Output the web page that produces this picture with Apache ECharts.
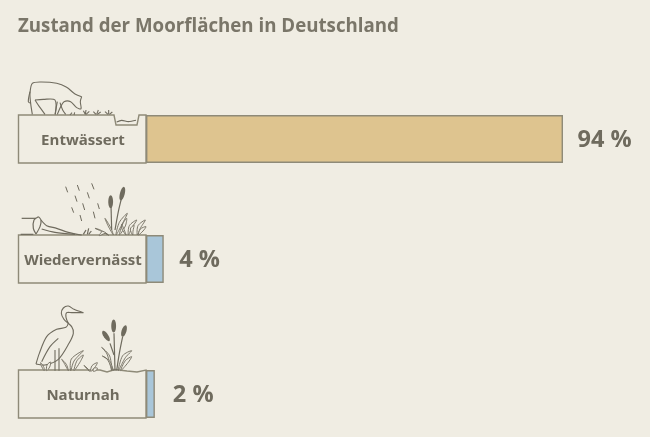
<!DOCTYPE html>
<html>
<head>
<meta charset="utf-8">
<style>
  html, body { margin: 0; padding: 0; background: #f0ede3; }
  #chart { width: 650px; height: 437px; }
</style>
<script src="https://cdn.jsdelivr.net/npm/echarts@6/dist/echarts.min.js"></script>
</head>
<body>
<div id="chart"></div>
<script>
const categories = ['Entwässert', 'Wiedervernässt', 'Naturnah'];
const values = [94, 4, 2];
const barColors = ['#dec48f', '#a9c6d9', '#a9c6d9'];
const barTops = [115, 235, 370];
const labelGaps = [14.5, 15.5, 18];

const textColor = '#6f6b5e';
const lineColor = '#8e8a78';
const iconColor = '#6f6b5e';
const bg = '#f0ede3';

// icon strokes are written in zoomed px (3x), o = offset of the crop
const strokes = (oy, list, width) => list.map(p => ({
  type: 'polyline',
  z: 5,
  silent: true,
  shape: { points: p.map(q => [q[0] / 3, q[1] / 3 + oy]), smooth: p.length > 2 ? 0.3 : 0 },
  style: { stroke: iconColor, fill: null, lineWidth: width || 1 }
}));
// narrow outlined leaf: base, bend, tip
const leaves = (oy, list) => list.map(l => ({
  type: 'polygon',
  z: 6,
  silent: true,
  shape: {
    points: [
      [l[0] / 3, l[1] / 3 + oy],
      [(l[2] - 4) / 3, (l[3] - 3) / 3 + oy],
      [l[4] / 3, l[5] / 3 + oy],
      [(l[2] + 4) / 3, (l[3] + 3) / 3 + oy]
    ],
    smooth: 0.3
  },
  style: { stroke: iconColor, fill: bg, lineWidth: 0.9 }
}));
const head = (oy, x, y, ry, rot) => ({
  type: 'ellipse',
  z: 7,
  silent: true,
  x: x / 3,
  y: y / 3 + oy,
  rotation: rot,
  shape: { cx: 0, cy: 0, rx: 2.4, ry: ry },
  style: { fill: iconColor }
});

const cow = strokes(60, [
  [[97, 163], [92, 130], [90, 100], [97, 70], [125, 66], [170, 70], [200, 82], [225, 102], [245, 110]],
  [[245, 110], [241, 125], [243, 146], [230, 143], [212, 125], [192, 125], [182, 140], [172, 163]],
  [[90, 95], [85, 125], [92, 130]],
  [[105, 120], [130, 118], [165, 120], [166, 163]],
  [[105, 120], [118, 140], [135, 163]],
  [[180, 128], [188, 150], [197, 163]],
  [[172, 125], [165, 163]],
  [[210, 165], [216, 158]], [[222, 165], [224, 157]],
  [[256, 163], [250, 152]], [[256, 163], [258, 150]], [[258, 163], [268, 154]],
  [[288, 163], [280, 155]], [[290, 163], [295, 150]], [[292, 163], [302, 156]],
  [[324, 163], [315, 155]], [[326, 163], [326, 150]], [[328, 163], [337, 156]],
  [[350, 186], [365, 181], [385, 185], [408, 181]]
], 1.1);

const rain = strokes(175, [
  [[197, 35], [203, 52]], [[232, 30], [238, 47]], [[275, 25], [282, 43]],
  [[225, 62], [231, 80]], [[262, 52], [268, 70]], [[215, 97], [221, 113]],
  [[248, 85], [254, 105]], [[293, 85], [298, 102]], [[240, 120], [245, 138]],
  [[280, 110], [285, 130]]
], 1);

const wetland = strokes(175, [
  [[65, 130], [108, 130]],
  [[62, 178], [100, 178]],
  [[115, 125], [102, 135], [100, 160], [108, 177]],
  [[115, 125], [123, 135], [120, 155], [108, 177]],
  [[123, 135], [140, 152], [170, 160], [205, 172], [245, 180]],
  [[125, 162], [165, 172], [225, 178]],
  [[250, 178], [258, 165]], [[262, 178], [266, 160]], [[266, 178], [274, 168]],
  [[333, 90], [335, 165]],
  [[365, 68], [355, 110], [345, 165]]
], 1.2);
const wetlandLeaves = leaves(175, [
  [340, 180, 328, 155, 315, 130],
  [348, 180, 362, 145, 382, 115],
  [358, 180, 372, 150, 380, 130],
  [325, 180, 305, 168, 285, 160],
  [325, 180, 312, 172, 298, 182],
  [378, 180, 370, 165, 365, 148],
  [385, 180, 392, 155, 410, 135],
  [412, 180, 418, 155, 436, 135],
  [415, 180, 425, 165, 438, 155],
  [398, 180, 395, 165, 402, 150]
]);

const heron = strokes(300, [
  [[250, 38], [222, 28], [205, 18], [190, 24], [184, 40], [192, 58], [215, 80], [220, 100], [207, 130], [175, 178], [135, 195], [108, 192]],
  [[250, 38], [215, 38], [200, 38], [198, 52], [205, 70]],
  [[108, 192], [118, 160], [140, 110], [170, 88], [198, 82], [205, 70]],
  [[125, 185], [150, 140], [175, 115]],
  [[165, 150], [165, 212]], [[177, 145], [177, 212]]
], 1.1);
const reedStems = strokes(300, [
  [[342, 100], [345, 212]],
  [[368, 110], [358, 160], [350, 212]],
  [[330, 130], [342, 165]]
], 1.2);
const naturnahLeaves = leaves(300, [
  [132, 212, 128, 200, 122, 188],
  [140, 212, 145, 198, 152, 186],
  [205, 212, 195, 190, 185, 178],
  [212, 212, 218, 180, 250, 152],
  [222, 212, 235, 185, 250, 165],
  [268, 214, 260, 204, 252, 196],
  [272, 214, 280, 200, 292, 188],
  [280, 214, 285, 208, 292, 204],
  [335, 212, 325, 165, 305, 142],
  [340, 212, 325, 180, 307, 168],
  [355, 212, 372, 170, 395, 152],
  [362, 212, 380, 185, 395, 170]
]);

const heads = [
  head(175, 332, 80, 6.5, 0), head(175, 367, 56, 7, -0.25),
  head(300, 341, 78, 6.5, 0), head(300, 318, 108, 6, 0.6), head(300, 372, 93, 6, -0.3)
];

// label boxes, the upper edge differs per row
const boxes = [
  [[18.5, 115], [114, 115], [116, 125], [137, 125], [139, 115], [146, 115], [146, 163], [18.5, 163]],
  [[18.5, 235], [146, 235], [146, 283], [18.5, 283]],
  [[18.5, 370], [100, 370], [107, 372], [115, 369.5], [127, 371], [137, 372], [146, 370], [146, 418], [18.5, 418]]
].map(points => ({
  type: 'polygon',
  z: -1,
  silent: true,
  shape: { points },
  style: { fill: bg, stroke: lineColor, lineWidth: 1.4 }
}));

const chart = echarts.init(document.getElementById('chart'));
chart.setOption({
  backgroundColor: bg,
  animation: false,
  title: {
    text: 'Zustand der Moorflächen in Deutschland',
    left: 13,
    top: 12,
    textStyle: { fontFamily: 'Open Sans', fontSize: 18.7, fontWeight: 'bold', color: '#7a7669' }
  },
  grid: categories.map((c, i) => ({ left: 146, width: 443.6, top: barTops[i], height: 48 })),
  xAxis: categories.map((c, i) => ({ gridIndex: i, type: 'value', min: 0, max: 100, show: false })),
  yAxis: categories.map((c, i) => ({
    gridIndex: i,
    type: 'category',
    data: [c],
    axisLine: { show: false },
    axisTick: { show: false },
    axisLabel: {
      margin: 63,
      align: 'center',
      verticalAlign: 'top',
      lineHeight: 3,
      fontFamily: 'Open Sans',
      fontSize: 15,
      fontWeight: 'bold',
      color: textColor
    }
  })),
  series: categories.map((c, i) => ({
    type: 'bar',
    xAxisIndex: i,
    yAxisIndex: i,
    data: [values[i]],
    barWidth: '100%',
    itemStyle: { color: barColors[i], borderColor: lineColor, borderWidth: 1.4 },
    label: {
      show: true,
      position: 'right',
      distance: labelGaps[i],
      offset: [0, 1],
      formatter: '{c} %',
      fontFamily: 'Open Sans',
      fontSize: 23.5,
      fontWeight: 'bold',
      color: textColor
    }
  })),
  graphic: {
    elements: [...boxes, ...cow, ...rain, ...wetland, ...wetlandLeaves, ...heron, ...reedStems, ...naturnahLeaves, ...heads]
  }
});
</script>
</body>
</html>
